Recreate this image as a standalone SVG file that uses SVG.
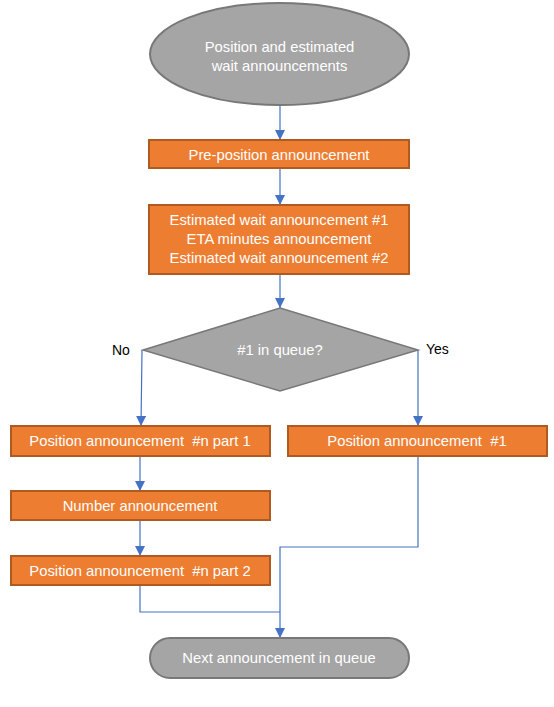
<svg xmlns="http://www.w3.org/2000/svg" width="554" height="707" viewBox="0 0 554 707">
<defs>
<marker id="arr" viewBox="0 0 10 10" refX="10" refY="5" markerWidth="10" markerHeight="10" markerUnits="userSpaceOnUse" orient="auto">
<path d="M0,0 L10,5 L0,10 Z" fill="#4472C4"/>
</marker>
<style>
.box{fill:#ED7D31;stroke:#AE5A21;stroke-width:2}
.term{fill:#A5A5A5;stroke:#787878;stroke-width:2}
.t{font-family:"Liberation Sans",Arial,sans-serif;font-size:14.8px;fill:#FFFFFF;text-anchor:middle;dominant-baseline:central;white-space:pre}
.lbl{font-family:"Liberation Sans",Arial,sans-serif;font-size:14px;fill:#000000;dominant-baseline:central}
.c{fill:none;stroke:#4472C4;stroke-width:1.2}
</style>
</defs>
<rect width="554" height="707" fill="#FFFFFF"/>
<g id="connectors">
<path class="c" d="M280,105 V140" marker-end="url(#arr)"/>
<path class="c" d="M280,168 V205" marker-end="url(#arr)"/>
<path class="c" d="M280,274 V308" marker-end="url(#arr)"/>
<path class="c" d="M142,350 L141,426" marker-end="url(#arr)"/>
<path class="c" d="M418,350 V426" marker-end="url(#arr)"/>
<path class="c" d="M140,457 V491" marker-end="url(#arr)"/>
<path class="c" d="M140,521 V556" marker-end="url(#arr)"/>
<path class="c" d="M418,457 V547 H280 V638" marker-end="url(#arr)"/>
<path class="c" d="M140,586 V612 H280"/>
</g>
<g id="start">
<ellipse class="term" cx="279.5" cy="54" rx="129.5" ry="51"/>
<text class="t" x="279.5" y="47">Position and estimated</text>
<text class="t" x="279.5" y="66">wait announcements</text>
</g>
<g id="preposition">
<rect class="box" x="149" y="140" width="260" height="28"/>
<text class="t" x="279" y="155">Pre-position announcement</text>
</g>
<g id="estimated">
<rect class="box" x="149" y="205" width="260" height="69"/>
<text class="t" x="279" y="220">Estimated wait announcement #1</text>
<text class="t" x="279" y="239">ETA minutes announcement</text>
<text class="t" x="279" y="258">Estimated wait announcement #2</text>
</g>
<g id="decision">
<polygon points="280,308 418,350 280,391 143,350" fill="#A5A5A5" stroke="#787878" stroke-width="1.5"/>
<text class="t" x="280" y="350">#1 in queue?</text>
<text class="lbl" x="112" y="350">No</text>
<text class="lbl" x="426" y="349">Yes</text>
</g>
<g id="posn1">
<rect class="box" x="11" y="426" width="259" height="30"/>
<text class="t" x="140" y="441">Position announcement  #n part 1</text>
</g>
<g id="pos1">
<rect class="box" x="288" y="426" width="259" height="30"/>
<text class="t" x="417" y="441">Position announcement  #1</text>
</g>
<g id="number">
<rect class="box" x="11" y="491" width="259" height="29"/>
<text class="t" x="140" y="506">Number announcement</text>
</g>
<g id="posn2">
<rect class="box" x="11" y="556" width="259" height="29"/>
<text class="t" x="140" y="571">Position announcement  #n part 2</text>
</g>
<g id="next">
<rect class="term" x="150" y="638" width="259" height="40" rx="20" ry="20"/>
<text class="t" x="279" y="658">Next announcement in queue</text>
</g>
</svg>
